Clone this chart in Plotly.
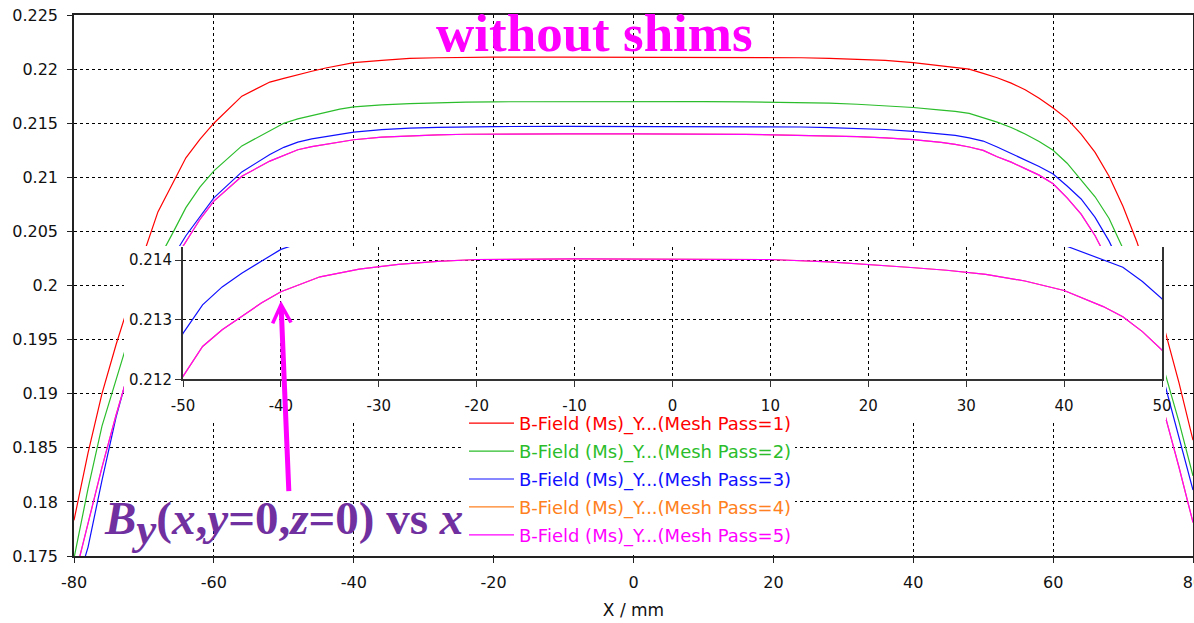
import plotly.graph_objects as go

# ---------------- data ----------------
x_mm = [-80, -78, -76, -74, -72, -70, -68, -66, -64, -62, -60, -56, -52,
        -50, -48, -46, -44, -42, -40, -36, -32, -28, -24, -20, -10, 0, 10,
        16, 20, 24, 28, 32, 36, 40, 44, 46, 48, 50, 52, 54, 56, 58, 60, 62,
        64, 66, 68, 70, 72, 74, 76, 78, 80]

mesh_pass1 = [0.1783, 0.1845, 0.1900, 0.1945, 0.1986, 0.2030, 0.2068, 0.2093, 0.2118, 0.2135, 0.2150,
              0.2175, 0.2188,
              0.21915, 0.2195, 0.2198, 0.2201, 0.22035, 0.2206,
              0.2208, 0.2210, 0.22105, 0.2211, 0.2211,
              0.2211, 0.2211, 0.2211,
              0.2211, 0.22108, 0.22105, 0.2210, 0.2209, 0.2208, 0.2206,
              0.2203, 0.22015, 0.2200, 0.2196,
              0.2192, 0.2187, 0.2181, 0.2173, 0.2164, 0.2154, 0.2140, 0.2123, 0.2101, 0.2073,
              0.2040, 0.2000, 0.1958, 0.1910, 0.1857]

mesh_pass2 = [0.1748, 0.1812, 0.1870, 0.1912, 0.1955, 0.1993, 0.2023, 0.2047, 0.2072, 0.2091, 0.2106,
              0.2129, 0.2143,
              0.2150, 0.2154, 0.2157, 0.2160, 0.2163, 0.2165,
              0.2167, 0.2168, 0.2169, 0.21695, 0.21698,
              0.2170, 0.2170, 0.2170,
              0.21698, 0.21695, 0.2169, 0.21685, 0.21675, 0.21662, 0.21645,
              0.2162, 0.2161, 0.2159, 0.2155,
              0.2151, 0.2146, 0.2140, 0.2133, 0.2125, 0.2113, 0.2098, 0.2082, 0.2062, 0.2034,
              0.2000, 0.1962, 0.1919, 0.1874, 0.1824]

mesh_pass3 = [0.1715, 0.1758, 0.1820, 0.1878, 0.1925, 0.1965, 0.1997, 0.2025, 0.2046, 0.2064, 0.2081,
              0.2105, 0.2121,
              0.21277, 0.21325, 0.21355, 0.21378, 0.21398, 0.21418,
              0.21440, 0.21455, 0.21462, 0.21466, 0.21469,
              0.21471, 0.21471, 0.21470,
              0.21469, 0.21467, 0.21465, 0.21460, 0.21452, 0.21442, 0.21425,
              0.21400, 0.21388, 0.21364, 0.21335,
              0.2128, 0.2122, 0.2116, 0.2110, 0.2103, 0.2092, 0.2080, 0.2063, 0.2041, 0.2014,
              0.1983, 0.1948, 0.1908, 0.1860, 0.1811]

mesh_pass4 = [0.1728, 0.1781, 0.1832, 0.1880, 0.1924, 0.1962, 0.1994, 0.2020, 0.2041, 0.2061, 0.2078,
              0.2101, 0.2115,
              0.21205, 0.21255, 0.21283, 0.21306, 0.21328, 0.21347,
              0.21372, 0.21385, 0.21393, 0.21398, 0.21401,
              0.21402, 0.21402, 0.21401,
              0.21397, 0.21393, 0.21388, 0.21383, 0.21376, 0.21365, 0.21349,
              0.21322, 0.21305, 0.21280, 0.21249,
              0.2119, 0.2114, 0.2108, 0.2102, 0.2094, 0.2081, 0.2066, 0.2046, 0.2021, 0.1997,
              0.1966, 0.1925, 0.1880, 0.1832, 0.1781]

mesh_pass5 = [0.1728, 0.1781, 0.1832, 0.1880, 0.1924, 0.1962, 0.1994, 0.2020, 0.2041, 0.2061, 0.2078,
              0.2101, 0.2115,
              0.21205, 0.21255, 0.21283, 0.21306, 0.21328, 0.21347,
              0.21372, 0.21385, 0.21393, 0.21398, 0.21401,
              0.21402, 0.21402, 0.21401,
              0.21397, 0.21393, 0.21388, 0.21383, 0.21376, 0.21365, 0.21349,
              0.21322, 0.21305, 0.21280, 0.21249,
              0.2119, 0.2114, 0.2108, 0.2102, 0.2094, 0.2081, 0.2066, 0.2046, 0.2021, 0.1997,
              0.1966, 0.1925, 0.1880, 0.1832, 0.1781]

series_names = ["B-Field (Ms)_Y...(Mesh Pass=1)", "B-Field (Ms)_Y...(Mesh Pass=2)",
                "B-Field (Ms)_Y...(Mesh Pass=3)", "B-Field (Ms)_Y...(Mesh Pass=4)",
                "B-Field (Ms)_Y...(Mesh Pass=5)"]
series_values = [mesh_pass1, mesh_pass2, mesh_pass3, mesh_pass4, mesh_pass5]
series_colors = ["#ff0000", "#2bbd2b", "#1010ff", "#ff8020", "#ff00ff"]

main_xticks = [-80, -60, -40, -20, 0, 20, 40, 60, 80]
main_xticktext = ["-80", "-60", "-40", "-20", "0", "20", "40", "60", "80"]
main_yticks = [0.175, 0.18, 0.185, 0.19, 0.195, 0.2, 0.205, 0.21, 0.215, 0.22, 0.225]
main_yticktext = ["0.175", "0.18", "0.185", "0.19", "0.195", "0.2", "0.205", "0.21",
                  "0.215", "0.22", "0.225"]
inset_xticks = [-50, -40, -30, -20, -10, 0, 10, 20, 30, 40, 50]
inset_xticktext = ["-50", "-40", "-30", "-20", "-10", "0", "10", "20", "30", "40", "50"]
inset_yticks = [0.212, 0.213, 0.214]
inset_yticktext = ["0.212", "0.213", "0.214"]

# ---------------- figure ----------------
W, H = 1194, 623
ML, MR, MT, MB = 74, 1, 15, 67
PW, PH = W - ML - MR, H - MT - MB


def px_x(p):
    return (p - ML) / PW


def px_y(p):
    return (H - MB - p) / PH


TICKFONT = dict(family="DejaVu Sans", size=16, color="#111111")

fig = go.Figure()

# main plot
for name, vals, col in zip(series_names, series_values, series_colors):
    fig.add_trace(go.Scatter(
        x=x_mm, y=vals, mode="lines", line=dict(color=col, width=1.2),
        name=f'<span style="color:{col}">{name}</span>', legendgroup=name,
        xaxis="x", yaxis="y", hoverinfo="skip"))

# white cover behind inset (subplot 2) and behind legend (subplot 3)
fig.add_trace(go.Scatter(x=[], y=[], xaxis="x2", yaxis="y2", showlegend=False))
fig.add_trace(go.Scatter(x=[], y=[], xaxis="x3", yaxis="y3", showlegend=False))

# inset (subplot 4)
for name, vals, col in zip(series_names, series_values, series_colors):
    fig.add_trace(go.Scatter(
        x=x_mm, y=vals, mode="lines", line=dict(color=col, width=1.2),
        showlegend=False, xaxis="x4", yaxis="y4", hoverinfo="skip"))

grid = dict(showgrid=True, gridcolor="#000000", gridwidth=1, griddash="3px,3px")
INSET_FONT = dict(family="DejaVu Sans", size=15, color="#111111")

fig.update_layout(
    width=W, height=H, autosize=False,
    margin=dict(l=ML, r=MR, t=MT, b=MB, pad=0, autoexpand=False),
    paper_bgcolor="white", plot_bgcolor="white",
    xaxis=dict(domain=[0, 1], range=[-80, 80], tickvals=main_xticks, ticktext=main_xticktext,
               anchor="y", automargin=False, ticklabeloverflow="allow",
               showline=True, linecolor="#222222", linewidth=1.5, mirror=True,
               ticks="outside", ticklen=5, tickcolor="#222222", tickfont=TICKFONT,
               ticklabelstandoff=6, zeroline=False,
               title=dict(text="X / mm", font=dict(family="DejaVu Sans", size=17, color="#111111"),
                          standoff=13),
               **grid),
    yaxis=dict(domain=[0, 1], range=[0.175, 0.225], tickvals=main_yticks,
               ticktext=main_yticktext, anchor="x", automargin=False,
               showline=True, linecolor="#222222", linewidth=1.5, mirror=True,
               ticks="outside", ticklen=5, tickcolor="#222222", tickfont=TICKFONT,
               ticklabelstandoff=6, zeroline=False, **grid),
    xaxis2=dict(domain=[px_x(124), px_x(1166)], range=[0, 1], visible=False, anchor="y2",
                automargin=False),
    yaxis2=dict(domain=[px_y(420), px_y(246)], range=[0, 1], visible=False, anchor="x2",
                automargin=False),
    xaxis3=dict(domain=[px_x(462), px_x(795)], range=[0, 1], visible=False, anchor="y3",
                automargin=False),
    yaxis3=dict(domain=[px_y(553), px_y(420)], range=[0, 1], visible=False, anchor="x3",
                automargin=False),
    xaxis4=dict(domain=[px_x(183), px_x(1162)], range=[-50, 50], tickvals=inset_xticks,
                ticktext=inset_xticktext, automargin=False,
                anchor="y4", showline=True, linecolor="#333333", linewidth=2, mirror=False,
                ticks="outside", ticklen=6, tickcolor="#333333", tickfont=INSET_FONT,
                ticklabelstandoff=6, zeroline=False, **grid),
    yaxis4=dict(domain=[px_y(379.3), px_y(247)], range=[0.212, 0.21422],
                tickvals=inset_yticks, ticktext=inset_yticktext, anchor="x4", automargin=False,
                showline=True, linecolor="#333333", linewidth=2, mirror=True,
                ticks="outside", ticklen=6, tickcolor="#333333", tickfont=INSET_FONT,
                ticklabelstandoff=0, zeroline=False, **grid),
    showlegend=True,
    legend=dict(x=px_x(464), y=px_y(405), xanchor="left", yanchor="top",
                bgcolor="rgba(0,0,0,0)", borderwidth=0,
                font=dict(family="DejaVu Sans", size=18),
                itemwidth=45, tracegroupgap=1.5, traceorder="grouped"),
)

fig.add_annotation(
    text="<b>without shims</b>", xref="paper", yref="paper",
    x=px_x(594), y=px_y(33), xanchor="center", yanchor="middle", showarrow=False,
    font=dict(family="Liberation Serif", size=53, color="#ff00ff"))

fig.add_annotation(
    text=('<b><i>B</i><sub><i><span style="font-size:45px">y</span></i></sub>'
          '(<i>x</i>,<i>y</i>=0,<i>z</i>=0) vs <i>x</i></b>'),
    xref="paper", yref="paper", x=px_x(102), y=px_y(523), xanchor="left", yanchor="middle",
    showarrow=False, font=dict(family="Liberation Serif", size=47, color="#7030a0"))

fig.add_annotation(
    text="", xref="x4", yref="y4", x=-40, y=0.21332, ax=8, ay=192,
    showarrow=True, arrowhead=5, arrowsize=0.72, arrowwidth=5, arrowcolor="#ff00ff")

# the page's default 8px body margin would shift the figure; remove it
fig.write_html("out.html", config={"displayModeBar": False},
               post_script="document.body.style.margin='0';")
